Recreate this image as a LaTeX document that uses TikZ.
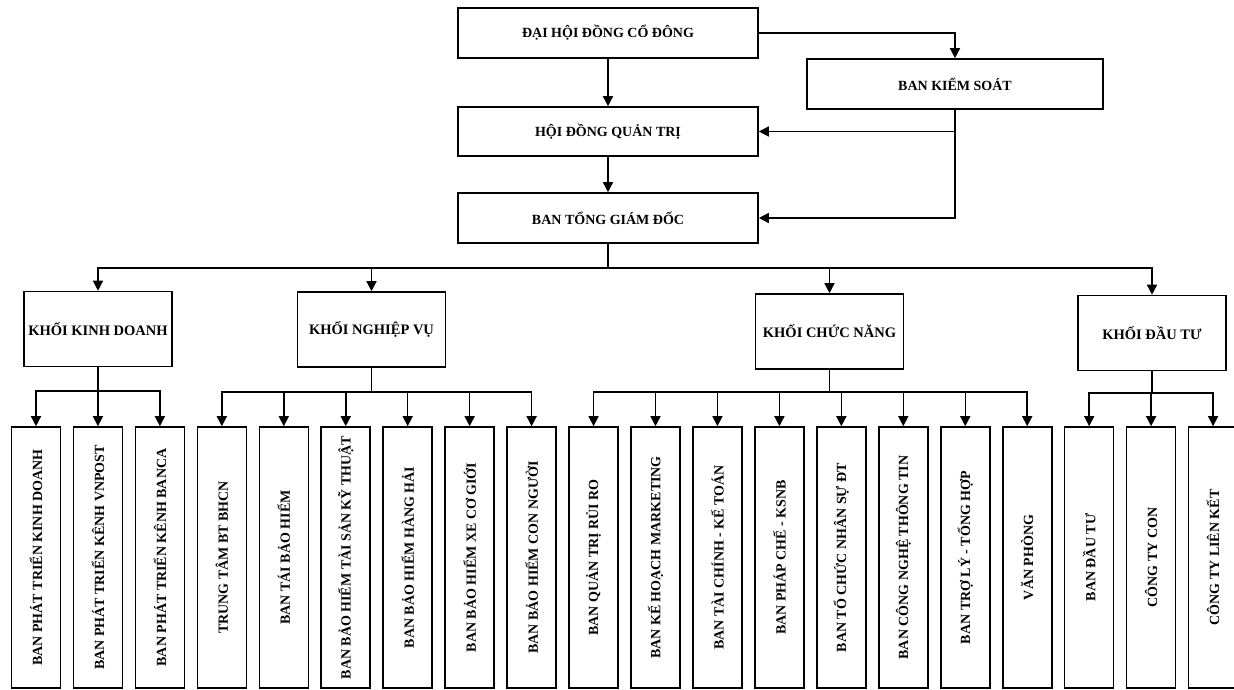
\documentclass[tikz,border=0pt]{standalone}
\usepackage{fontspec}
\setmainfont{Liberation Serif}
\usetikzlibrary{arrows.meta}
\begin{document}
\begin{tikzpicture}[x=1pt,y=-1pt,
  topbox/.style={draw, line width=1.6pt, minimum width=300pt, minimum height=50pt, inner sep=0pt,
    font=\bfseries\fontsize{14}{16}\selectfont},
  blk/.style={draw, line width=1.6pt, minimum width=148pt, minimum height=75pt, inner sep=0pt,
    font=\bfseries\fontsize{14.5}{16}\selectfont},
  unit/.style={draw, line width=1.6pt, minimum width=49pt, minimum height=261pt, inner sep=0pt,
    font=\bfseries\fontsize{14}{16}\selectfont},
  conn/.style={line width=1.5pt},
  arr/.style={conn, -{Triangle[length=10pt,width=10pt]}}]
\useasboundingbox (0,0) rectangle (1234,690);

% top level
\node[topbox] (dh)  at (608,33)    {ĐẠI HỘI ĐỒNG CỔ ĐÔNG};
\node[topbox, minimum width=296pt] (bks) at (955,84) {BAN KIỂM SOÁT};
\node[topbox, minimum height=49pt] (hd)  at (608,131.5) {HỘI ĐỒNG QUẢN TRỊ};
\node[topbox] (tgd) at (608,218)   {BAN TỔNG GIÁM ĐỐC};

\draw[arr] (dh.south) -- (hd.north);
\draw[arr] (hd.south) -- (tgd.north);
\draw[arr] (dh.east) -| (bks.north);
\draw[arr] (bks.south) |- (tgd.east);
\draw[arr] (bks.south |- hd.east) -- (hd.east);

% blocks
\node[blk] (kkd) at (98,329)     {KHỐI KINH DOANH};
\node[blk] (knv) at (371.5,329.5) {KHỐI NGHIỆP VỤ};
\node[blk] (kcn) at (829.5,331.5) {KHỐI CHỨC NĂNG};
\node[blk] (kdt) at (1152,333)    {KHỐI ĐẦU TƯ};

\coordinate (tb) at (608,268);
\draw[conn] (tgd.south) -- (tb);
\foreach \b in {kkd,knv,kcn,kdt} \draw[arr] (tb) -| (\b.north);

% units
\foreach \i/\t in {
  1/{BAN PHÁT TRIỂN KINH DOANH},
  2/{BAN PHÁT TRIỂN KÊNH VNPOST},
  3/{BAN PHÁT TRIỂN KÊNH BANCA},
  4/{TRUNG TÂM BT BHCN},
  5/{BAN TÁI BẢO HIỂM},
  6/{BAN BẢO HIỂM TÀI SẢN KỸ THUẬT},
  7/{BAN BẢO HIỂM HÀNG HẢI},
  8/{BAN BẢO HIỂM XE CƠ GIỚI},
  9/{BAN BẢO HIỂM CON NGƯỜI},
  10/{BAN QUẢN TRỊ RỦI RO},
  11/{BAN KẾ HOẠCH MARKETING},
  12/{BAN TÀI CHÍNH - KẾ TOÁN},
  13/{BAN PHÁP CHẾ - KSNB},
  14/{BAN TỔ CHỨC NHÂN SỰ ĐT},
  15/{BAN CÔNG NGHỆ THÔNG TIN},
  16/{BAN TRỢ LÝ - TỔNG HỢP},
  17/{VĂN PHÒNG},
  18/{BAN ĐẦU TƯ},
  19/{CÔNG TY CON},
  20/{CÔNG TY LIÊN KẾT}} {
  \pgfmathsetmacro\cx{36+61.95*(\i-1)}
  \node[unit] (u\i) at (\cx,557.5) {\rotatebox{90}{\t}};
}

\coordinate (kkdb) at (98,391);
\coordinate (knvb) at (371.5,392);
\coordinate (kcnb) at (829.5,392);
\coordinate (kdtb) at (1152,393);
\draw[conn] (kkd.south) -- (kkdb);
\draw[conn] (knv.south) -- (knvb);
\draw[conn] (kcn.south) -- (kcnb);
\draw[conn] (kdt.south) -- (kdtb);
\foreach \i in {1,2,3} \draw[arr] (kkdb) -| (u\i.north);
\foreach \i in {4,...,9} \draw[arr] (knvb) -| (u\i.north);
\foreach \i in {10,...,17} \draw[arr] (kcnb) -| (u\i.north);
\foreach \i in {18,19,20} \draw[arr] (kdtb) -| (u\i.north);
\end{tikzpicture}
\end{document}
